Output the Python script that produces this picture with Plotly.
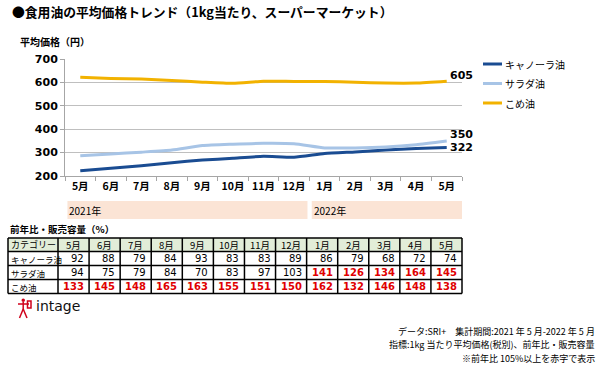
import plotly.graph_objects as go

W, H = 600, 369
FONT = "Noto Sans CJK JP"

months = ["5月", "6月", "7月", "8月", "9月", "10月", "11月", "12月", "1月", "2月", "3月", "4月", "5月"]
xkeys = [f"{i}" for i in range(len(months))]

canola = [222, 233, 244, 257, 268, 276, 284, 280, 296, 303, 311, 318, 322]
salad = [287, 294, 302, 311, 330, 336, 340, 338, 320, 320, 324, 334, 350]
rice = [622, 617, 614, 608, 601, 596, 605, 604, 604, 601, 597, 597, 605]

series_names = ["キャノーラ油", "サラダ油", "こめ油"]
series_colors = ["#1A4C92", "#A7C4E6", "#F2B200"]

yoy_canola = [92, 88, 79, 84, 93, 83, 83, 89, 86, 79, 68, 72, 74]
yoy_salad = [94, 75, 79, 84, 70, 83, 97, 103, 141, 126, 134, 164, 145]
yoy_rice = [133, 145, 148, 165, 163, 155, 151, 150, 162, 132, 146, 148, 138]

years = ["2021年", "2022年"]
year_spans = [(0, 7), (8, 12)]

yticks = [200, 300, 400, 500, 600, 700]
threshold = 105


def px(x):
    return x / W


def py(y):
    return 1 - y / H


fig = go.Figure()
shapes = []

for name, vals, col in zip(series_names, [canola, salad, rice], series_colors):
    fig.add_trace(go.Scatter(
        x=xkeys, y=vals, mode="lines", name=name,
        line=dict(color=col, width=3, shape="spline", smoothing=0.5),
        hoverinfo="skip", showlegend=False,
    ))
    fig.add_annotation(
        x=xkeys[-1], y=vals[-1], xref="x", yref="y",
        text=f"<b>{vals[-1]}</b>", showarrow=False, xanchor="left",
        xshift=1, yshift=6 if name != "キャノーラ油" else 0,
        font=dict(family="DejaVu Sans", size=11, color="#000"),
    )

# manual legend
for i, (name, col) in enumerate(zip(series_names, series_colors)):
    yy = 64 + 19.5 * i
    shapes.append(dict(type="line", xref="paper", yref="paper",
                       x0=px(483), x1=px(502), y0=py(yy), y1=py(yy),
                       line=dict(color=col, width=3)))
    fig.add_annotation(x=px(503), y=py(yy), xref="paper", yref="paper", text=name,
                       showarrow=False, xanchor="left", yanchor="middle",
                       font=dict(family=FONT, size=10, color="#000"))

# year bands
for (a, b), lbl in zip(year_spans, years):
    shapes.append(dict(type="rect", xref="x", yref="paper",
                       x0=a - 0.42, x1=b + 0.5 - (0.06 if b == 7 else 0),
                       y0=py(219), y1=py(201), fillcolor="#FBE4D5",
                       line=dict(width=0), layer="below"))
    fig.add_annotation(x=a - 0.42, y=py(210), xref="x", yref="paper", text=lbl,
                       showarrow=False, xanchor="left", yanchor="middle",
                       font=dict(family=FONT, size=10, color="#000"))

# table (manual)
tx0, tc0, tx1 = 8, 58, 462
rows_y = [238, 251.5, 265.5, 279.5, 293.5]
ncol = len(months)
cw = (tx1 - tc0) / ncol
col_edges = [tx0, tc0] + [tc0 + cw * (i + 1) for i in range(ncol)]
shapes.append(dict(type="rect", xref="paper", yref="paper",
                   x0=px(tx0), x1=px(tx1), y0=py(rows_y[1]), y1=py(rows_y[0]),
                   fillcolor="#E2EDD8", line=dict(width=0), layer="below"))
for yv in rows_y:
    shapes.append(dict(type="line", xref="paper", yref="paper",
                       x0=px(tx0), x1=px(tx1), y0=py(yv), y1=py(yv),
                       line=dict(color="#000", width=1.5)))
for xv in col_edges:
    shapes.append(dict(type="line", xref="paper", yref="paper",
                       x0=px(xv), x1=px(xv), y0=py(rows_y[0]), y1=py(rows_y[-1]),
                       line=dict(color="#000", width=1.5)))

header = ["カテゴリー"] + months
ymid = [(rows_y[i] + rows_y[i + 1]) / 2 for i in range(4)]
fig.add_annotation(x=px((tx0 + tc0) / 2), y=py(ymid[0]), xref="paper", yref="paper",
                   text=header[0], showarrow=False, xanchor="center", yanchor="middle",
                   font=dict(family=FONT, size=9, color="#000"))
for i, m in enumerate(months):
    cx = tc0 + cw * (i + 0.5)
    fig.add_annotation(x=px(cx), y=py(ymid[0]), xref="paper", yref="paper",
                       text=m, showarrow=False, xanchor="center", yanchor="middle",
                       font=dict(family=FONT, size=9.5, color="#000"))

for r, (name, vals) in enumerate(zip(series_names, [yoy_canola, yoy_salad, yoy_rice])):
    yy = ymid[r + 1]
    fig.add_annotation(x=px(tx0 + 1), y=py(yy), xref="paper", yref="paper",
                       text=name, showarrow=False, xanchor="left", yanchor="middle",
                       font=dict(family=FONT, size=8.5, color="#000"))
    for i, v in enumerate(vals):
        red = v >= threshold
        fig.add_annotation(x=px(tc0 + cw * (i + 1) - 3), y=py(yy), xref="paper", yref="paper",
                           text=f"<b>{v}</b>" if red else str(v), showarrow=False,
                           xanchor="right", yanchor="middle",
                           font=dict(family="DejaVu Sans", size=10,
                                     color="#E00000" if red else "#000"))

# logo (simple figure glyph)
lr = "#D0021B"
shapes += [
    dict(type="circle", xref="paper", yref="paper", x0=px(21.5), x1=px(25), y0=py(302), y1=py(298.5), fillcolor=lr, line=dict(width=0)),
    dict(type="line", xref="paper", yref="paper", x0=px(23.2), x1=px(23.2), y0=py(302), y1=py(309), line=dict(color=lr, width=1.5)),
    dict(type="line", xref="paper", yref="paper", x0=px(18), x1=px(29), y0=py(304), y1=py(304), line=dict(color=lr, width=1.5)),
    dict(type="line", xref="paper", yref="paper", x0=px(23.2), x1=px(19.5), y0=py(309), y1=py(318), line=dict(color=lr, width=1.5)),
    dict(type="line", xref="paper", yref="paper", x0=px(23.2), x1=px(27), y0=py(309), y1=py(318), line=dict(color=lr, width=1.5)),
    dict(type="rect", xref="paper", yref="paper", x0=px(27.5), x1=px(31), y0=py(308), y1=py(301), line=dict(color=lr, width=1.5)),
]
fig.add_annotation(x=px(34), y=py(306), xref="paper", yref="paper", text="intage",
                   showarrow=False, xanchor="left", yanchor="middle",
                   font=dict(family="DejaVu Sans", size=14, color="#111"))

# text annotations
fig.add_annotation(x=px(10), y=py(12), xref="paper", yref="paper",
                   text="<b>●食用油の平均価格トレンド（1kg当たり、スーパーマーケット）</b>",
                   showarrow=False, xanchor="left", yanchor="middle",
                   font=dict(family=FONT, size=12.8, color="#000"))
fig.add_annotation(x=px(18), y=py(41), xref="paper", yref="paper",
                   text="<b>平均価格（円）</b>", showarrow=False, xanchor="left", yanchor="middle",
                   font=dict(family=FONT, size=10, color="#000"))
fig.add_annotation(x=px(8), y=py(229), xref="paper", yref="paper",
                   text="<b>前年比・販売容量（%）</b>", showarrow=False, xanchor="left", yanchor="middle",
                   font=dict(family=FONT, size=9.5, color="#000"))
notes = ["データ:SRI+　集計期間:2021 年 5 月-2022 年 5 月",
         "指標:1kg 当たり平均価格(税別)、前年比・販売容量",
         "※前年比 105%以上を赤字で表示"]
for i, t in enumerate(notes):
    fig.add_annotation(x=px(597), y=py(331 + 13.5 * i), xref="paper", yref="paper",
                       text=t, showarrow=False, xanchor="right", yanchor="middle",
                       font=dict(family=FONT, size=9, color="#000"))

fig.update_layout(
    shapes=shapes,
    width=W, height=H,
    margin=dict(l=0, r=0, t=0, b=0, autoexpand=False),
    paper_bgcolor="white", plot_bgcolor="white",
    font=dict(family=FONT, color="#000"),
    showlegend=False,
    xaxis=dict(domain=[px(65), px(462)], type="category", automargin=False,
               tickmode="array", tickvals=xkeys, ticktext=[f"<b>{m}</b>" for m in months],
               tickangle=0,
               tickson="boundaries", ticks="outside", ticklen=4, tickcolor="#A6A6A6",
               showline=True, linecolor="#A6A6A6", linewidth=1,
               showgrid=False, tickfont=dict(family=FONT, size=10.5, color="#000"),
               range=[-0.5, len(months) - 0.5], fixedrange=True),
    yaxis=dict(domain=[py(176), py(59)], range=[200, 700], automargin=False,
               tickvals=yticks, ticktext=[f"<b>{v}</b>" for v in yticks],
               showgrid=True, gridcolor="#BFBFBF", gridwidth=1,
               ticks="outside", ticklen=4, tickcolor="#A6A6A6",
               showline=True, linecolor="#A6A6A6", linewidth=1,
               zeroline=False, tickfont=dict(family="DejaVu Sans", size=11, color="#000"),
               fixedrange=True),
)

post = ("document.body.style.margin='0';"
        "var d=document.getElementById('{plot_id}');"
        "d.style.position='absolute';d.style.left='0px';d.style.top='0px';")
fig.write_html("out.html", post_script=post, config={"displayModeBar": False})
